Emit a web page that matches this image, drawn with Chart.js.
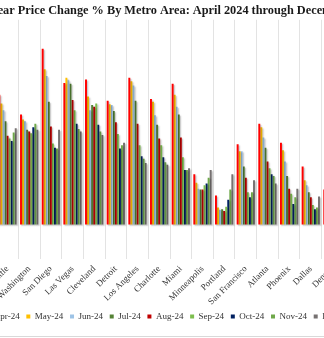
<!DOCTYPE html>
<html>
<head>
<meta charset="utf-8">
<script src="https://cdn.jsdelivr.net/npm/chart.js@4.4.1/dist/chart.umd.min.js"></script>
<style>
  html, body { margin: 0; padding: 0; background: #fff; overflow: hidden; width: 324px; height: 338px; }
  #wrap { position: absolute; left: -73px; top: 0; width: 480px; height: 338px; }
  #frame { position: absolute; left: 0; top: 336px; width: 324px; height: 0; border-top: 1px solid #d9d9d9; }
</style>
</head>
<body>
<div id="wrap"><canvas id="c"></canvas></div>
<div id="frame"></div>
<script>
// Metro areas, ordered by December 2024 change
const metros = ['Seattle', 'Washington', 'San Diego', 'Las Vegas', 'Cleveland', 'Detroit',
  'Los Angeles', 'Charlotte', 'Miami', 'Minneapolis', 'Portland', 'San Francisco',
  'Atlanta', 'Phoenix', 'Dallas', 'Denver'];

const months = ['Apr-24', 'May-24', 'Jun-24', 'Jul-24', 'Aug-24', 'Sep-24', 'Oct-24', 'Nov-24', 'Dec-24'];

// Year-over-year price change, % (one array per month, one value per metro)
const apr24 = [7.6, 6.45, 10.3, 8.3, 8.5, 7.25, 8.6, 7.35, 8.25, 2.95, 1.7, 4.7, 5.9, 4.8, 3.4, 2.05];
const may24 = [7.1, 6.15, 9.1, 8.6, 7.5, 7.05, 8.4, 7.2, 7.6, 2.45, 1.0, 4.3, 5.7, 4.35, 2.6, 1.3];
const jun24 = [6.7, 6.05, 8.7, 8.45, 6.7, 7.0, 8.15, 6.4, 6.9, 2.1, 0.85, 4.3, 5.1, 3.7, 2.3, 0.8];
const jul24 = [6.05, 5.55, 7.2, 8.25, 7.0, 6.65, 7.25, 5.85, 6.45, 2.05, 0.9, 3.4, 4.5, 2.85, 1.9, 0.4];
const aug24 = [5.2, 5.45, 5.75, 7.3, 6.9, 6.0, 5.9, 5.05, 5.1, 2.05, 0.8, 2.75, 3.7, 2.1, 1.6, 0.2];
const sep24 = [5.05, 5.35, 4.75, 6.7, 7.1, 5.3, 4.65, 4.65, 3.95, 2.3, 1.05, 1.9, 3.3, 1.8, 1.15, 0.2];
const oct24 = [4.9, 5.7, 4.5, 5.9, 5.85, 4.45, 4.0, 3.95, 3.2, 2.4, 1.45, 1.6, 2.95, 1.2, 0.9, 0.3];
const nov24 = [5.4, 5.9, 4.45, 5.6, 5.45, 4.65, 3.85, 3.65, 3.2, 2.75, 2.05, 1.9, 2.85, 1.6, 1.0, 0.7];
const dec24 = [5.65, 5.55, 5.55, 5.45, 5.25, 4.8, 3.6, 3.5, 3.3, 3.2, 2.95, 2.6, 2.4, 2.1, 1.65, 1.0];

const series = [apr24, may24, jun24, jul24, aug24, sep24, oct24, nov24, dec24];
const colors = ['#FF0000', '#FFC000', '#9DC3E6', '#548235', '#C00000', '#7DBE4E', '#002060', '#6FA84A', '#767171'];

const serif = "'Liberation Serif', 'DejaVu Serif', serif";
const pad = '\u00A0'.repeat(8);

// soft drop shadow behind every bar
const barShadow = {
  id: 'barShadow',
  beforeDatasetsDraw(chart) {
    const ctx = chart.ctx;
    ctx.save();
    ctx.shadowColor = 'rgba(0,0,0,0.25)';
    ctx.shadowOffsetX = 1.2;
    ctx.shadowOffsetY = 1.2;
    ctx.shadowBlur = 1.5;
  },
  afterDatasetsDraw(chart) {
    chart.ctx.restore();
  }
};

new Chart(document.getElementById('c'), {
  type: 'bar',
  data: {
    labels: metros,
    datasets: months.map((m, i) => ({
      label: m,
      data: series[i],
      backgroundColor: colors[i],
      borderWidth: 0,
      categoryPercentage: 0.85,
      barPercentage: 0.95
    }))
  },
  options: {
    responsive: true,
    maintainAspectRatio: false,
    animation: false,
    layout: { padding: { left: 0, right: 0, top: 0, bottom: 7 } },
    plugins: {
      title: {
        display: true,
        text: 'Year-Over-Year Price Change % By Metro Area: April 2024 through December 2024' + pad,
        color: '#1a1a1a',
        font: { family: serif, size: 12.3, weight: 'bold', lineHeight: 1.2 },
        padding: { top: 3, bottom: 2 }
      },
      legend: {
        position: 'bottom',
        labels: {
          color: '#333',
          font: { family: serif, size: 9 },
          boxWidth: 4,
          boxHeight: 4,
          padding: 6.7
        }
      },
      tooltip: { enabled: false }
    },
    scales: {
      x: {
        offset: true,
        grid: { display: true, offset: true, color: '#e3e3e3', lineWidth: 1, drawTicks: false },
        border: { display: false },
        ticks: {
          color: '#333',
          font: { family: serif, size: 9 },
          maxRotation: 45,
          minRotation: 45,
          padding: 5,
          autoSkip: false
        },
        afterFit(scale) { scale.height = 46.6; }
      },
      y: {
        display: true,
        min: -2,
        max: 12,
        grid: { display: false },
        border: { display: false },
        ticks: { display: false },
        afterFit(scale) { scale.width = 69.7; }
      },
      yRight: {
        type: 'linear',
        position: 'right',
        display: true,
        grid: { display: false },
        border: { display: false },
        ticks: { display: false },
        afterFit(scale) { scale.width = 63.7; }
      }
    }
  },
  plugins: [barShadow]
});
</script>
</body>
</html>
